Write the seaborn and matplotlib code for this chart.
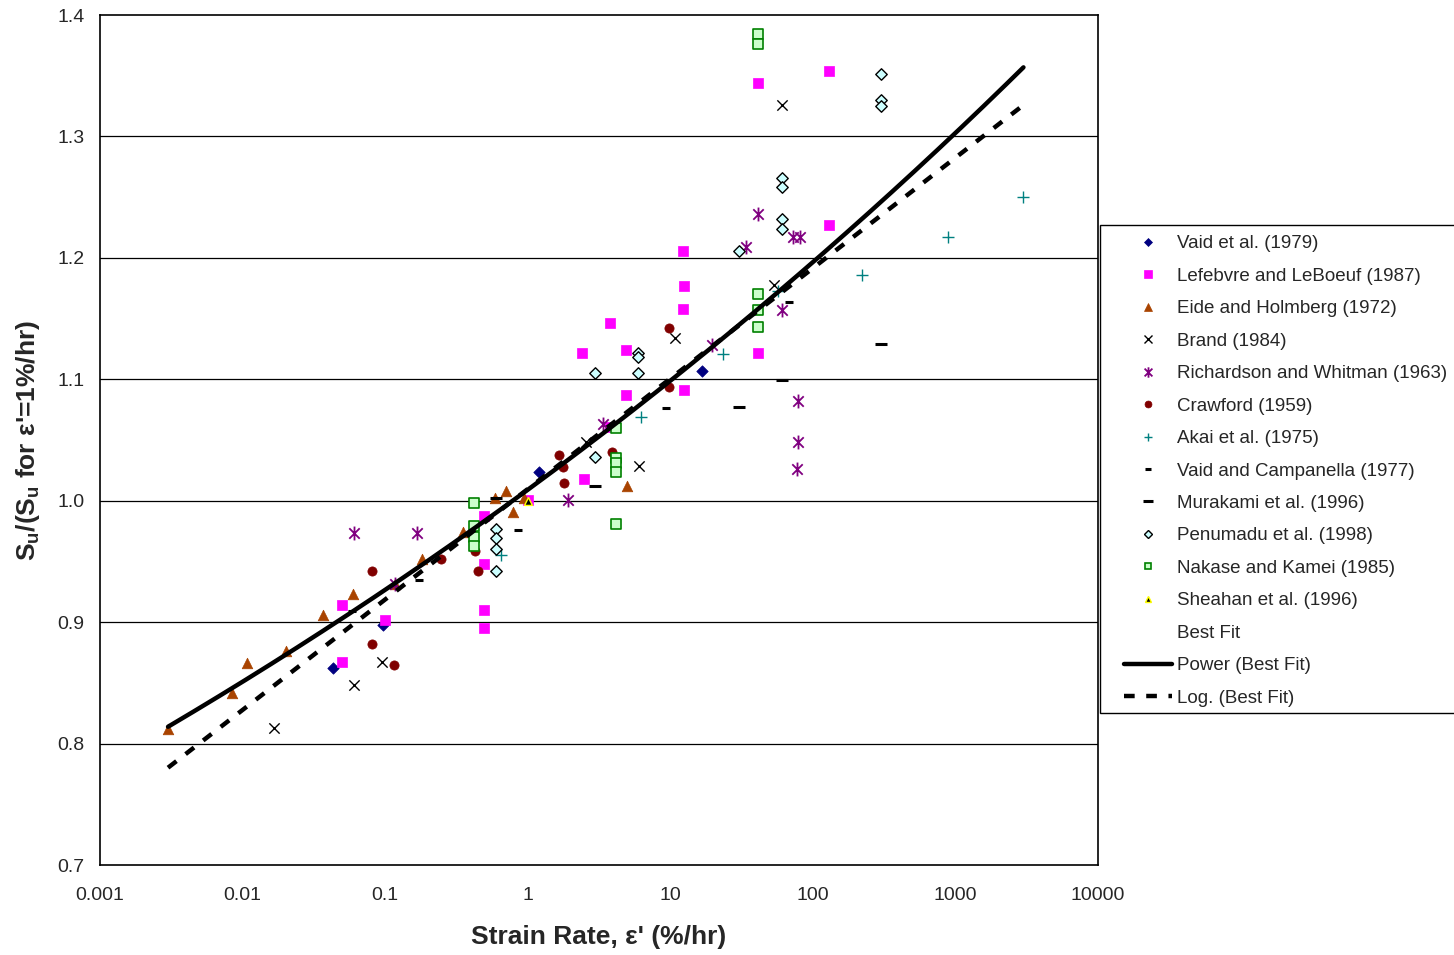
import numpy as np
import pandas as pd
import matplotlib
matplotlib.use("Agg")
import matplotlib.pyplot as plt
import seaborn as sns
from matplotlib.lines import Line2D
from matplotlib.path import Path
from matplotlib.patches import Rectangle
from matplotlib.ticker import FixedLocator, MultipleLocator, NullFormatter

# ---------------- data ----------------
vaid79_x = [0.043, 0.097, 1.2, 16.7]
vaid79_y = [0.862, 0.898, 1.024, 1.107]

lefebvre_x = [0.05, 0.05, 0.1, 0.49, 0.49, 0.49, 0.49, 1.0, 2.5, 2.4, 3.8, 3.8,
              4.9, 4.9, 12.3, 12.5, 12.3, 12.5, 41, 41, 130, 130]
lefebvre_y = [0.914, 0.867, 0.902, 0.987, 0.948, 0.910, 0.895, 1.001, 1.018, 1.122, 1.146, 1.061,
              1.124, 1.087, 1.206, 1.177, 1.158, 1.091, 1.344, 1.122, 1.354, 1.227]

eide_x = [0.003, 0.0084, 0.0107, 0.0202, 0.0367, 0.0596, 0.117, 0.182, 0.352,
          0.59, 0.705, 0.79, 0.942, 4.97]
eide_y = [0.812, 0.842, 0.866, 0.876, 0.906, 0.923, 0.931, 0.952, 0.974,
          1.002, 1.008, 0.991, 1.002, 1.012]

brand_x = [0.0166, 0.0605, 0.095, 2.56, 6.04, 10.8, 53.4, 60.8]
brand_y = [0.813, 0.848, 0.867, 1.048, 1.029, 1.134, 1.178, 1.326]

richardson_x = [0.0605, 0.117, 0.167, 1.92, 3.38, 19.6, 34, 41.2, 60.8,
                72.6, 81.3, 78.7, 78.7, 77.4]
richardson_y = [0.973, 0.931, 0.973, 1.001, 1.063, 1.128, 1.209, 1.236, 1.157,
                1.217, 1.217, 1.082, 1.048, 1.026]

crawford_x = [0.0815, 0.0815, 0.115, 0.247, 0.427, 0.448, 1.66, 1.77, 1.80, 3.90, 9.8, 9.8]
crawford_y = [0.942, 0.882, 0.865, 0.952, 0.959, 0.942, 1.038, 1.028, 1.015, 1.040, 1.142, 1.094]

akai_x = [0.65, 6.23, 23.4, 57, 221, 887, 2980]
akai_y = [0.955, 1.069, 1.121, 1.173, 1.186, 1.217, 1.250]

vaidcamp_x = [0.0586, 0.173, 0.855, 9.33, 68]
vaidcamp_y = [0.909, 0.935, 0.976, 1.076, 1.164]

murakami_x = [0.60, 2.97, 30.3, 60.8, 300]
murakami_y = [1.002, 1.012, 1.077, 1.099, 1.129]

penumadu_x = [0.60, 0.60, 0.60, 0.60, 2.97, 2.97, 5.94, 5.94, 5.94, 30.3,
              60.8, 60.8, 60.8, 60.8, 300, 300, 300]
penumadu_y = [0.977, 0.969, 0.960, 0.942, 1.036, 1.105, 1.122, 1.118, 1.105, 1.206,
              1.266, 1.258, 1.232, 1.224, 1.351, 1.330, 1.325]

nakase_x = [0.42, 0.42, 0.42, 0.42, 4.16, 4.16, 4.16, 4.16, 4.16,
            41.2, 41.2, 41.2, 41.2, 41.2]
nakase_y = [0.998, 0.979, 0.970, 0.963, 1.060, 1.035, 1.031, 1.024, 0.981,
            1.170, 1.157, 1.143, 1.384, 1.376]

sheahan_x = [1.0]
sheahan_y = [1.0]

# trendline parameters (Excel-style "Best Fit" trendlines)
fit_range = [0.003, 3000]
power_a, power_b = 1.009, 0.0370       # y = a * x^b
log_c, log_d = 1.0096, 0.0395          # y = c + d * ln(x)

x_tick_vals = [0.001, 0.01, 0.1, 1, 10, 100, 1000, 10000]
x_tick_labels = ["0.001", "0.01", "0.1", "1", "10", "100", "1000", "10000"]
y_tick_vals = [0.7, 0.8, 0.9, 1.0, 1.1, 1.2, 1.3, 1.4]
y_tick_labels = ["0.7", "0.8", "0.9", "1.0", "1.1", "1.2", "1.3", "1.4"]

# ---------------- styling ----------------
sns.set_style("white")
plt.rcParams["font.family"] = ["Liberation Sans", "DejaVu Sans"]
plt.rcParams["mathtext.fontset"] = "custom"
plt.rcParams["mathtext.rm"] = "Liberation Sans:bold"
plt.rcParams["mathtext.default"] = "rm"

# Excel-style "star" marker: an x with a vertical bar through it
star_marker = Path(
    [(0, -1), (0, 1), (-0.75, -0.75), (0.75, 0.75), (-0.75, 0.75), (0.75, -0.75)],
    [Path.MOVETO, Path.LINETO, Path.MOVETO, Path.LINETO, Path.MOVETO, Path.LINETO])

W, H = 1454, 955
fig = plt.figure(figsize=(W / 100, H / 100), dpi=100)
ax = fig.add_axes([100 / W, 90 / H, 998 / W, 850 / H])

series = [
    ("Vaid et al. (1979)", vaid79_x, vaid79_y,
     dict(marker="D", s=34, color="#000080", edgecolor="#000080", linewidth=0.5)),
    ("Lefebvre and LeBoeuf (1987)", lefebvre_x, lefebvre_y,
     dict(marker="s", s=46, color="#FF00FF", edgecolor="#FF00FF", linewidth=0.5)),
    ("Eide and Holmberg (1972)", eide_x, eide_y,
     dict(marker="^", s=58, color="#A94300", edgecolor="#A94300", linewidth=0.5)),
    ("Brand (1984)", brand_x, brand_y,
     dict(marker="x", s=55, color="black", edgecolor="black", linewidth=1.0)),
    ("Richardson and Whitman (1963)", richardson_x, richardson_y,
     dict(marker=star_marker, s=100, color="#800080", edgecolor="#800080", linewidth=1.3)),
    ("Crawford (1959)", crawford_x, crawford_y,
     dict(marker="o", s=44, color="#800000", edgecolor="#800000", linewidth=0.5)),
    ("Akai et al. (1975)", akai_x, akai_y,
     dict(marker="+", s=65, color="#008080", edgecolor="#008080", linewidth=1.0)),
    ("Vaid and Campanella (1977)", vaidcamp_x, vaidcamp_y,
     dict(marker="_", s=30, color="black", edgecolor="black", linewidth=2.2)),
    ("Murakami et al. (1996)", murakami_x, murakami_y,
     dict(marker="_", s=75, color="black", edgecolor="black", linewidth=2.2)),
    ("Penumadu et al. (1998)", penumadu_x, penumadu_y,
     dict(marker="D", s=34, color="#CCFFFF", edgecolor="black", linewidth=1.0)),
    ("Nakase and Kamei (1985)", nakase_x, nakase_y,
     dict(marker="s", s=44, color="#CCFFCC", edgecolor="#008000", linewidth=1.2)),
    ("Sheahan et al. (1996)", sheahan_x, sheahan_y,
     dict(marker="^", s=32, color="black", edgecolor="#FFFF00", linewidth=1.0)),
]

handles = []
for name, xs, ys, kw in series:
    df = pd.DataFrame({"x": xs, "y": ys})
    sns.scatterplot(data=df, x="x", y="y", ax=ax, legend=False, zorder=3, **kw)
    h = Line2D([], [], linestyle="none", marker=kw["marker"],
               markersize=np.sqrt(kw["s"]) * 0.75,
               markerfacecolor=kw["color"],
               markeredgecolor=kw["edgecolor"],
               markeredgewidth=kw.get("linewidth", 1.0), label=name)
    handles.append(h)

# trendlines
xf = np.geomspace(fit_range[0], fit_range[1], 300)
fit_df = pd.DataFrame({"x": xf,
                       "power": power_a * xf ** power_b,
                       "log": log_c + log_d * np.log(xf)})
sns.lineplot(data=fit_df, x="x", y="power", ax=ax, color="black", linewidth=3.2,
             zorder=4, legend=False)
sns.lineplot(data=fit_df, x="x", y="log", ax=ax, color="black", linewidth=3.2,
             linestyle=(0, (2.4, 2.6)), zorder=4, legend=False)

handles.append(Line2D([], [], linestyle="none", marker=None, label="Best Fit"))
handles.append(Line2D([], [], color="black", linewidth=3.2, label="Power (Best Fit)"))
handles.append(Line2D([], [], color="black", linewidth=3.2, linestyle=(0, (2.4, 2.6)),
                      label="Log. (Best Fit)"))

# axes
ax.set_xscale("log")
ax.set_xlim(0.001, 10000)
ax.set_ylim(0.7, 1.4)
ax.set_xticks(x_tick_vals)
ax.set_xticklabels(x_tick_labels)
ax.xaxis.set_minor_locator(FixedLocator(
    [m * 10.0 ** e for e in range(-3, 4) for m in range(2, 10)]))
ax.xaxis.set_minor_formatter(NullFormatter())
ax.set_yticks(y_tick_vals)
ax.set_yticklabels(y_tick_labels)
ax.yaxis.set_minor_locator(MultipleLocator(0.02))

ax.tick_params(axis="both", which="both", direction="in", color="black",
               labelsize=14)
ax.tick_params(axis="x", which="major", length=5, width=1.4, pad=16)
ax.tick_params(axis="x", which="minor", length=4, width=0.9)
ax.tick_params(axis="y", which="major", length=6, width=1.0, pad=11)
ax.tick_params(axis="y", which="minor", length=6, width=0.9)

for gy in y_tick_vals[1:-1]:
    ax.axhline(gy, color="black", linewidth=0.9, zorder=1)
for sp in ax.spines.values():
    sp.set_color("black")
    sp.set_linewidth(1.2)

ax.set_xlabel("Strain Rate, ε' (%/hr)", fontsize=19, fontweight="bold", labelpad=15)
ax.set_ylabel("S$_{u}$/(S$_{u}$ for ε'=1%/hr)", fontsize=19, fontweight="bold", labelpad=11)

# legend: frame drawn separately so it runs off the right edge like the reference
fig.patches.append(Rectangle((1100 / W, (H - 713) / H), 380 / W, 488 / H,
                             transform=fig.transFigure, facecolor="white",
                             edgecolor="black", linewidth=1.0, zorder=0))
leg = fig.legend(handles=handles, loc="upper left",
                 bbox_to_anchor=(1114 / W, (H - 225) / H),
                 frameon=False, fontsize=13.5, handlelength=2.56, handletextpad=0.27,
                 labelspacing=0.817, borderpad=0.55, borderaxespad=0)

fig.savefig("out.png", dpi=100)
